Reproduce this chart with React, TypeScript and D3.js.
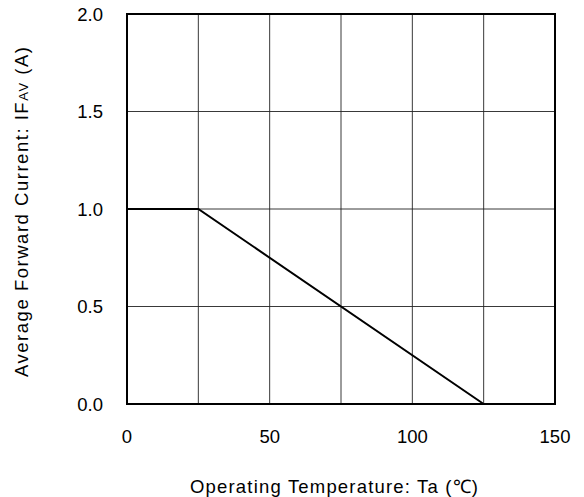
import React from "react"
import * as d3 from "d3"

// derating curve: IF(AV) vs ambient temperature
const temps = [0, 25, 125]
const currents = [1.0, 1.0, 0.0]
const xTicks = [0, 50, 100, 150]
const xGrid = [25, 50, 75, 100, 125]
const yTicks = [0, 0.5, 1.0, 1.5, 2.0]

const W = 584
const H = 497
const margin = { top: 14, right: 29, bottom: 93, left: 127 }
const font = "'Liberation Sans', Arial, sans-serif"

const App: React.FC = () => {
	const innerW = W - margin.left - margin.right
	const innerH = H - margin.top - margin.bottom

	const x = d3.scaleLinear().domain([0, 150]).range([0, innerW])
	const y = d3.scaleLinear().domain([0, 2]).range([innerH, 0])

	const pts = temps.map((t, i) => [t, currents[i]] as [number, number])
	const line = d3
		.line<[number, number]>()
		.x((d) => x(d[0]))
		.y((d) => y(d[1]))

	return (
		<div style={{ position: "absolute", left: 0, top: 0 }}>
			<svg width={W} height={H} style={{ display: "block", background: "#fff" }}>
				<g transform={`translate(${margin.left},${margin.top})`}>
					{xGrid.map((v) => (
						<line
							key={"gx" + v}
							x1={x(v)}
							x2={x(v)}
							y1={0}
							y2={innerH}
							stroke="#222"
							strokeWidth={0.9}
						/>
					))}
					{yTicks.slice(1, -1).map((v) => (
						<line
							key={"gy" + v}
							x1={0}
							x2={innerW}
							y1={y(v)}
							y2={y(v)}
							stroke="#222"
							strokeWidth={0.9}
						/>
					))}
					<rect
						x={0}
						y={0}
						width={innerW}
						height={innerH}
						fill="none"
						stroke="#000"
						strokeWidth={2}
					/>
					<path d={line(pts) || ""} fill="none" stroke="#000" strokeWidth={2} />
					{xTicks.map((v) => (
						<text
							key={"xt" + v}
							x={x(v)}
							y={innerH + 38.5}
							textAnchor="middle"
							fontFamily={font}
							fontSize={18.5}
							fill="#000">
							{v}
						</text>
					))}
					{yTicks.map((v) => (
						<text
							key={"yt" + v}
							x={-24}
							y={y(v)}
							dy="0.36em"
							textAnchor="end"
							fontFamily={font}
							fontSize={18.5}
							fill="#000">
							{v.toFixed(1)}
						</text>
					))}
				</g>
				<text
					x={334}
					y={493}
					textAnchor="middle"
					fontFamily={font}
					fontSize={18.5}
					textLength={288}
					lengthAdjust="spacing"
					fill="#000">
					Operating Temperature: Ta (℃)
				</text>
				<text
					transform={`translate(28,212) rotate(-90)`}
					textAnchor="middle"
					fontFamily={font}
					fontSize={18.5}
					textLength={330}
					lengthAdjust="spacing"
					fill="#000">
					Average Forward Current: IF
					<tspan fontSize={13}>AV</tspan>
					<tspan> (A)</tspan>
				</text>
			</svg>
		</div>
	)
}

export default App
